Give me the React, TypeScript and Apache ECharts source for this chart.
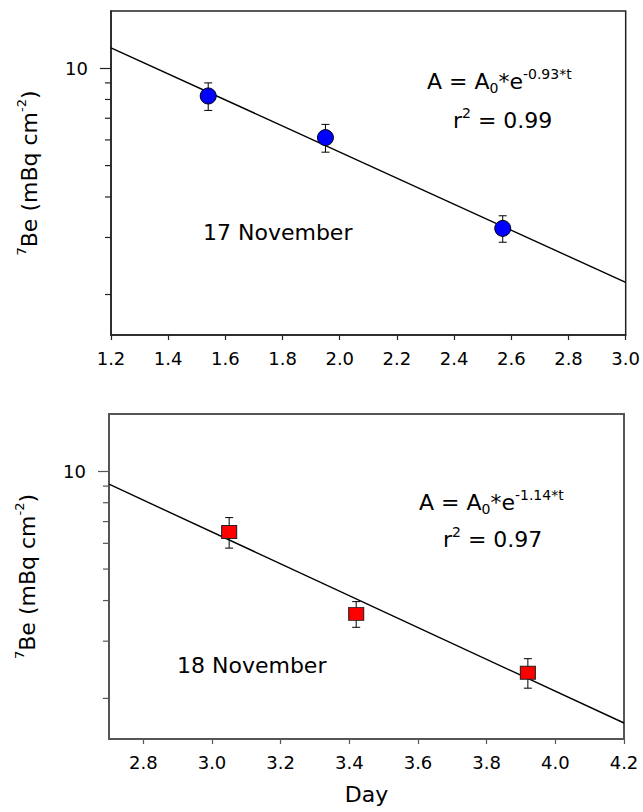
import React, { useEffect, useRef } from 'react';
import * as echarts from 'echarts';

// ---- data ----
const daysNov17 = [1.54, 1.95, 2.57];
const be7Nov17 = [8.2, 6.1, 3.2];
const errNov17 = [0.8, 0.6, 0.3];
const fitDaysNov17 = [1.2, 3.0];
const fitBe7Nov17 = [11.55, 2.18];

const daysNov18 = [3.05, 3.42, 3.92];
const be7Nov18 = [6.5, 3.64, 2.4];
const errNov18 = [0.7, 0.33, 0.25];
const fitDaysNov18 = [2.7, 4.2];
const fitBe7Nov18 = [9.12, 1.68];

const xRangeNov17 = [1.2, 3.0];
const xRangeNov18 = [2.7, 4.2];
const xTicksNov17 = [1.2, 1.4, 1.6, 1.8, 2.0, 2.2, 2.4, 2.6, 2.8, 3.0];
const xTicksNov18 = [2.8, 3.0, 3.2, 3.4, 3.6, 3.8, 4.0, 4.2];
const yLabelTicks = [10];
const yMinorTicks = [2, 3, 4, 5, 6, 7, 8, 9];
const yMin = 1.5;
const yMax = 15;

const eqNov17 = 'A = A{sub|0}*e{sup|-0.93*t}';
const r2Nov17 = 'r{sup|2} = 0.99';
const eqNov18 = 'A = A{sub|0}*e{sup|-1.14*t}';
const r2Nov18 = 'r{sup|2} = 0.97';
const yName = '{sup|7}Be (mBq cm{sup|-2})';

const FONT = '"DejaVu Sans", "Liberation Sans", sans-serif';

const richStyles = {
  sup: { fontSize: 14, fontFamily: FONT, verticalAlign: 'top', lineHeight: 16, fill: '#000', color: '#000' },
  sub: { fontSize: 14, fontFamily: FONT, verticalAlign: 'bottom', lineHeight: 8, fill: '#000', color: '#000' },
};

function makeX(gridIndex: number, range: number[], ticks: number[], color: string, width: number, name?: string) {
  return {
    type: 'value',
    gridIndex,
    min: range[0],
    max: range[1],
    position: 'bottom',
    axisLine: { show: true, onZero: false, lineStyle: { color, width } },
    axisTick: { show: true, customValues: ticks, interval: 0, length: 5, inside: false, lineStyle: { color, width: 1.2 } },
    axisLabel: {
      customValues: ticks,
      interval: 0,
      formatter: (v: number) => v.toFixed(1),
      fontSize: 18,
      fontFamily: FONT,
      color: '#000',
      margin: 14,
    },
    splitLine: { show: false },
    name: name || '',
    nameLocation: 'middle',
    nameGap: 44,
    nameTextStyle: { fontSize: 22, fontFamily: FONT, color: '#000' },
  };
}

function makeY(gridIndex: number, color: string, width: number) {
  return {
    type: 'log',
    logBase: 10,
    gridIndex,
    position: 'left',
    min: yMin,
    max: yMax,
    axisLine: { show: true, onZero: false, lineStyle: { color, width } },
    axisTick: { show: true, customValues: yLabelTicks, interval: 0, length: 11, lineStyle: { color, width: 1.2 } },
    axisLabel: { customValues: yLabelTicks, interval: 0, fontSize: 18, fontFamily: FONT, color: '#000', margin: 23 },
    splitLine: { show: false },
    minorTick: { show: false },
    name: yName,
    nameLocation: 'middle',
    nameRotate: 90,
    nameGap: 68,
    nameTextStyle: { fontSize: 22, fontFamily: FONT, color: '#000', lineHeight: 28, rich: { sup: { ...richStyles.sup, fontSize: 13 } } },
  };
}

// minor ticks of the log axis (2..9), placed through the axis scale
function minorTickSeries(idx: number, xMin: number, color: string) {
  return {
    type: 'custom',
    xAxisIndex: idx,
    yAxisIndex: idx,
    silent: true,
    clip: false,
    z: 5,
    encode: { x: 0, y: 1 },
    data: yMinorTicks.map((v) => [xMin, v]),
    renderItem: (params: any, api: any) => {
      const p = api.coord([api.value(0), api.value(1)]);
      return {
        type: 'line',
        shape: { x1: p[0] - 6, y1: p[1], x2: p[0], y2: p[1] },
        style: { stroke: color, lineWidth: 1.2 },
      };
    },
  };
}

function errorSeries(idx: number, days: number[], vals: number[], errs: number[]) {
  return {
    type: 'custom',
    xAxisIndex: idx,
    yAxisIndex: idx,
    z: 3,
    encode: { x: 0, y: [1, 2] },
    data: days.map((d, i) => [d, vals[i] - errs[i], vals[i] + errs[i]]),
    renderItem: (params: any, api: any) => {
      const x = api.value(0);
      const top = api.coord([x, api.value(2)]);
      const bot = api.coord([x, api.value(1)]);
      const hw = 4;
      const style = { stroke: '#000', lineWidth: 1 };
      return {
        type: 'group',
        children: [
          { type: 'line', shape: { x1: top[0], y1: top[1], x2: bot[0], y2: bot[1] }, style },
          { type: 'line', shape: { x1: top[0] - hw, y1: top[1], x2: top[0] + hw, y2: top[1] }, style },
          { type: 'line', shape: { x1: bot[0] - hw, y1: bot[1], x2: bot[0] + hw, y2: bot[1] }, style },
        ],
      };
    },
  };
}

function textEl(x: number, y: number, text: string) {
  return {
    type: 'text',
    x,
    y,
    z: 10,
    style: {
      text,
      fontSize: 22,
      fontFamily: FONT,
      fill: '#000',
      align: 'left',
      verticalAlign: 'middle',
      lineHeight: 28,
      rich: richStyles,
    },
  };
}

export default function App() {
  const ref = useRef<HTMLDivElement>(null);
  useEffect(() => {
    if (!ref.current) return;
    const chart = echarts.init(ref.current, null, { renderer: 'svg' });
    const topColor = '#222';
    const botColor = '#555';
    const option: any = {
      animation: false,
      backgroundColor: '#fff',
      grid: [
        { left: 111, top: 11, width: 516, height: 324, show: true, borderColor: topColor, borderWidth: 1.5, backgroundColor: 'transparent' },
        { left: 109, top: 414, width: 515, height: 325, show: true, borderColor: botColor, borderWidth: 2, backgroundColor: 'transparent' },
      ],
      xAxis: [
        makeX(0, xRangeNov17, xTicksNov17, topColor, 1.5),
        makeX(1, xRangeNov18, xTicksNov18, botColor, 2, 'Day'),
      ],
      yAxis: [makeY(0, topColor, 1.5), makeY(1, botColor, 2)],
      series: [
        minorTickSeries(0, xRangeNov17[0], topColor),
        minorTickSeries(1, xRangeNov18[0], botColor),
        {
          type: 'line',
          xAxisIndex: 0,
          yAxisIndex: 0,
          z: 2,
          showSymbol: false,
          symbol: 'none',
          lineStyle: { color: '#000', width: 1.4 },
          data: fitDaysNov17.map((d, i) => [d, fitBe7Nov17[i]]),
        },
        errorSeries(0, daysNov17, be7Nov17, errNov17),
        {
          type: 'scatter',
          xAxisIndex: 0,
          yAxisIndex: 0,
          z: 4,
          symbol: 'circle',
          symbolSize: 16,
          itemStyle: { color: '#0000ff', borderColor: '#000', borderWidth: 1, opacity: 1 },
          data: daysNov17.map((d, i) => [d, be7Nov17[i]]),
        },
        {
          type: 'line',
          xAxisIndex: 1,
          yAxisIndex: 1,
          z: 2,
          showSymbol: false,
          symbol: 'none',
          lineStyle: { color: '#000', width: 1.4 },
          data: fitDaysNov18.map((d, i) => [d, fitBe7Nov18[i]]),
        },
        errorSeries(1, daysNov18, be7Nov18, errNov18),
        {
          type: 'scatter',
          xAxisIndex: 1,
          yAxisIndex: 1,
          z: 4,
          symbol: 'rect',
          symbolSize: [15, 13],
          itemStyle: { color: '#ff0000', borderColor: '#222', borderWidth: 1, opacity: 1 },
          data: daysNov18.map((d, i) => [d, be7Nov18[i]]),
        },
      ],
      graphic: [
        textEl(203, 232, '17 November'),
        textEl(427, 81, eqNov17),
        textEl(453, 120, r2Nov17),
        textEl(177, 665, '18 November'),
        textEl(419, 502, eqNov18),
        textEl(443, 539, r2Nov18),
      ],
    };
    chart.setOption(option);
    return () => chart.dispose();
  }, []);
  return <div ref={ref} style={{ position: 'fixed', left: 0, top: 0, width: 643, height: 812 }} />;
}
